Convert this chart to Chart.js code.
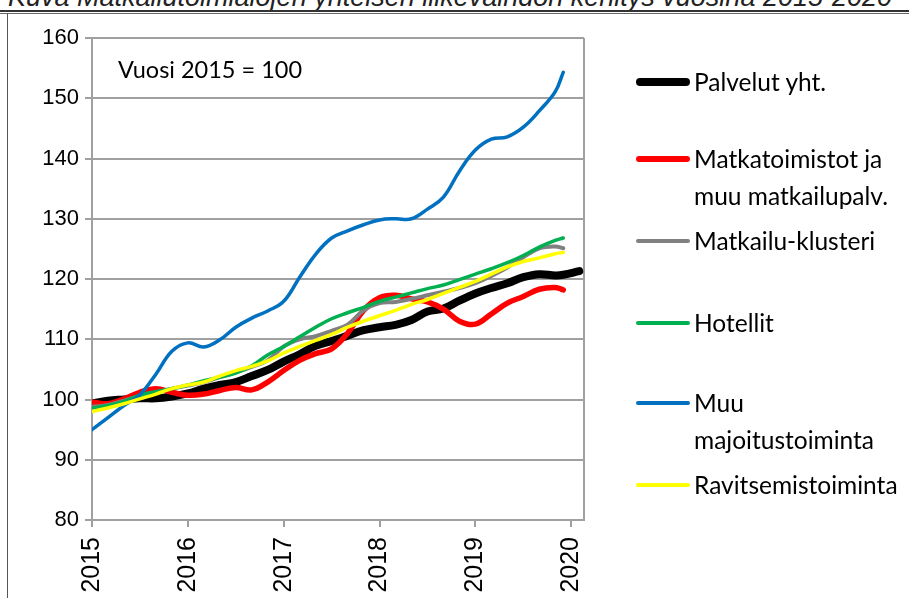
<!DOCTYPE html>
<html>
<head>
<meta charset="utf-8">
<script src="https://cdn.jsdelivr.net/npm/chart.js@4.4.1/dist/chart.umd.min.js"></script>
<style>
    html, body { margin: 0; padding: 0; background: #fff; }
    body { width: 909px; height: 598px; position: relative; overflow: hidden; }
    #title { position: absolute; left: 8px; top: -18px; font: italic 27px "Liberation Sans", Arial, sans-serif; white-space: nowrap; color: #222; }
    .rule { position: absolute; left: 0; width: 909px; }
    #rule1 { top: 10px; border-top: 2px solid #333; }
    #rule2 { top: 13px; border-top: 1px solid #666; }
    #frameLeft { position: absolute; left: 7px; top: 13px; width: 0; height: 600px; border-left: 1px solid #555; }
    #chartWrap { position: absolute; left: 0; top: 0; width: 909px; height: 598px; }
    #note { position: absolute; left: 118px; top: 55px; font: 23.5px Lato, "Open Sans", sans-serif; color: #000; }
    .legItem { position: absolute; left: 634px; }
    .legLine { position: absolute; left: 2px; width: 54px; border-radius: 4px; }
    .legText { position: absolute; left: 60px; font: 24.5px Lato, "Open Sans", sans-serif; line-height: 37px; white-space: nowrap; color: #000; }
</style>
</head>
<body>
<div id="title">Kuva  Matkailutoimialojen yhteisen liikevaihdon kehitys vuosina 2015-2020</div>
<div class="rule" id="rule1"></div>
<div class="rule" id="rule2"></div>
<div id="frameLeft"></div>
<div id="chartWrap"><canvas id="trendChart" width="909" height="598"></canvas></div>
<div id="note">Vuosi 2015 = 100</div>
<div id="legend"></div>

<script>
// months of the readings (every second month, plus the last ones)
const months = [
    '2015-01', '2015-03', '2015-05', '2015-07', '2015-09', '2015-11',
    '2016-01', '2016-03', '2016-05', '2016-07', '2016-09', '2016-11',
    '2017-01', '2017-03', '2017-05', '2017-07', '2017-09', '2017-11',
    '2018-01', '2018-03', '2018-05', '2018-07', '2018-09', '2018-11',
    '2019-01', '2019-03', '2019-05', '2019-07', '2019-09', '2019-11',
    '2019-12', '2020-02'
];
const yearLabels = ['2015', '2016', '2017', '2018', '2019', '2020'];

const seriesNames = [
    'Palvelut yht.',
    'Matkatoimistot ja\nmuu matkailupalv.',
    'Matkailu-klusteri',
    'Hotellit',
    'Muu\nmajoitustoiminta',
    'Ravitsemistoiminta'
];

const palvelut = [99.3, 99.8, 100.0, 100.2, 100.2, 100.5, 101.0, 101.8, 102.4, 102.9, 103.9, 104.9,
    106.3, 107.5, 108.9, 109.7, 110.6, 111.5, 112.0, 112.4, 113.2, 114.6, 115.1, 116.4,
    117.6, 118.5, 119.3, 120.3, 120.8, 120.6, 120.7, 121.3];
const matkatoimistot = [99.6, 99.3, 100.1, 101.2, 101.8, 101.2, 100.7, 100.9, 101.5, 102.0, 101.6, 102.9,
    104.8, 106.5, 107.6, 108.4, 111.0, 114.8, 116.9, 117.3, 116.7, 116.2, 115.0, 113.0,
    112.5, 114.2, 116.0, 117.1, 118.3, 118.6, 118.2, null];
const klusteri = [98.8, 99.1, 99.8, 100.6, 101.2, 101.8, 102.3, 102.9, 103.7, 104.5, 105.4, 106.5,
    108.8, 110.0, 110.5, 111.4, 112.4, 114.8, 116.0, 116.2, 116.7, 117.3, 117.9, 118.5,
    119.3, 120.5, 121.9, 123.6, 125.1, 125.4, 125.1, null];
const hotellit = [98.6, 99.0, 99.7, 100.7, 101.3, 101.8, 102.4, 103.1, 103.7, 104.4, 105.6, 107.4,
    108.8, 110.4, 112.0, 113.4, 114.4, 115.3, 116.3, 117.0, 117.7, 118.4, 119.0, 119.9,
    120.8, 121.7, 122.7, 123.9, 125.3, 126.4, 126.8, null];
const muuMajoitus = [95.0, 97.0, 99.0, 100.8, 104.2, 108.0, 109.4, 108.7, 109.9, 112.0, 113.5, 114.7,
    116.3, 120.3, 124.1, 126.8, 128.0, 129.0, 129.8, 130.0, 130.0, 131.6, 133.6, 137.9,
    141.4, 143.2, 143.6, 145.2, 147.9, 151.1, 154.3, null];
const ravitsemis = [98.0, 98.6, 99.3, 100.1, 100.9, 101.8, 102.4, 102.9, 103.9, 104.8, 105.5, 106.4,
    107.7, 108.8, 109.8, 110.8, 112.0, 113.0, 113.9, 114.8, 115.8, 116.6, 117.6, 118.6,
    119.6, 120.8, 122.0, 122.9, 123.5, 124.2, 124.4, null];

const yTicks = [80, 90, 100, 110, 120, 130, 140, 150, 160];

// styling
const colors = ['#000000', '#ff0000', '#808080', '#00b050', '#0070c0', '#ffff00'];
const widths = [8, 5.5, 4, 3.5, 3.5, 3.5];
const legendY = [82, 159, 241, 323, 403, 485];

const allSeries = [palvelut, matkatoimistot, klusteri, hotellit, muuMajoitus, ravitsemis];

function monthIndex(m) {
    const [y, mo] = m.split('-').map(Number);
    return (y - 2015) * 12 + (mo - 1);
}

const datasets = allSeries.map((vals, i) => ({
    label: seriesNames[i],
    data: months.map((m, j) => ({ x: monthIndex(m), y: vals[j] })).filter(p => p.y !== null),
    borderColor: colors[i],
    borderWidth: widths[i],
    pointRadius: 0,
    tension: 0.4,
    borderCapStyle: 'round',
    borderJoinStyle: 'round',
    fill: false,
    order: allSeries.length - i
}));

// right edge of the plot box
const frameBorder = {
    id: 'frameBorder',
    beforeDatasetsDraw(chart) {
        const a = chart.chartArea;
        const ctx = chart.ctx;
        ctx.save();
        ctx.strokeStyle = '#a0a0a0';
        ctx.lineWidth = 2;
        ctx.beginPath();
        ctx.moveTo(a.right, a.top);
        ctx.lineTo(a.right, a.bottom);
        ctx.stroke();
        ctx.restore();
    }
};

const axisFont = { family: '"Liberation Sans", Arial, sans-serif', size: 22 };

new Chart(document.getElementById('trendChart'), {
    type: 'line',
    data: { datasets: datasets },
    options: {
        responsive: false,
        animation: false,
        layout: { padding: { left: 0, top: 38, right: 325, bottom: 0 } },
        plugins: {
            legend: { display: false },
            tooltip: { enabled: false }
        },
        scales: {
            x: {
                type: 'linear',
                min: 0,
                max: 61.6,
                afterFit(scale) { scale.height = 78; },
                afterBuildTicks(scale) {
                    scale.ticks = yearLabels.map((y, i) => ({ value: i * 12 }));
                },
                ticks: {
                    minRotation: 90,
                    maxRotation: 90,
                    autoSkip: false,
                    color: '#000',
                    font: { family: axisFont.family, size: 25 },
                    padding: 10,
                    callback: (v) => yearLabels[Math.round(v / 12)]
                },
                grid: { drawOnChartArea: false, drawTicks: true, tickLength: 7, color: '#a0a0a0', lineWidth: 2 },
                border: { color: '#a0a0a0', width: 2 }
            },
            y: {
                min: yTicks[0],
                max: yTicks[yTicks.length - 1],
                afterFit(scale) { scale.width = 92; },
                ticks: { stepSize: 10, color: '#000', font: axisFont, padding: 6 },
                grid: { color: '#a0a0a0', lineWidth: 2, tickLength: 7 },
                border: { color: '#a0a0a0', width: 2 }
            }
        }
    },
    plugins: [frameBorder]
});

// legend on the right
const legend = document.getElementById('legend');
seriesNames.forEach((name, i) => {
    const item = document.createElement('div');
    item.className = 'legItem';
    item.style.top = legendY[i] + 'px';
    const line = document.createElement('div');
    line.className = 'legLine';
    line.style.background = colors[i];
    line.style.height = widths[i] + 'px';
    line.style.top = (-widths[i] / 2) + 'px';
    const text = document.createElement('div');
    text.className = 'legText';
    text.style.top = '-19px';
    text.innerHTML = name.split('\n').join('<br>');
    item.appendChild(line);
    item.appendChild(text);
    legend.appendChild(item);
});
</script>
</body>
</html>
